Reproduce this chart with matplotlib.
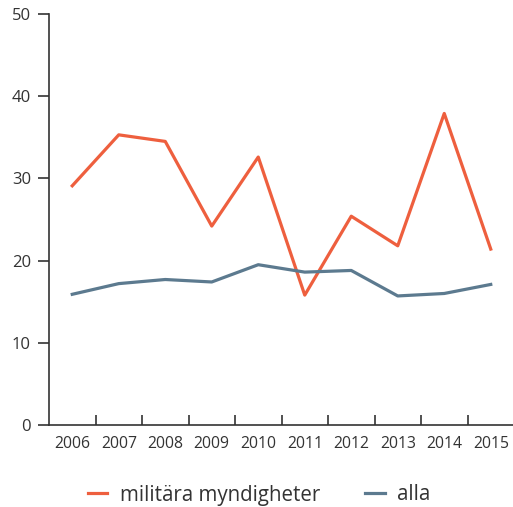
import matplotlib
import matplotlib.pyplot as plt
import numpy as np

matplotlib.use("Agg")

YEARS = ["2006", "2007", "2008", "2009", "2010", "2011", "2012", "2013", "2014", "2015"]
MILITARA = [29.1, 35.3, 34.5, 24.2, 32.6, 15.8, 25.4, 21.8, 37.9, 21.4]
ALLA = [15.9, 17.2, 17.7, 17.4, 19.5, 18.6, 18.8, 15.7, 16.0, 17.1]
SERIES_NAMES = ["militära myndigheter", "alla"]
Y_TICKS = [0, 10, 20, 30, 40, 50]

RED = "#EE5F3E"
BLUE = "#5C7A8F"
INK = "#333333"

plt.rcParams["font.family"] = ["Open Sans", "DejaVu Sans"]

fig = plt.figure(figsize=(5.13, 5.07), dpi=100)
ax = fig.add_axes((49 / 513, 1 - 425 / 507, 465 / 513, 411 / 507))

x = np.arange(len(YEARS))
ax.plot(x, MILITARA, color=RED, lw=2.3, label=SERIES_NAMES[0])
ax.plot(x, ALLA, color=BLUE, lw=2.3, label=SERIES_NAMES[1])

ax.set_xlim(-0.5, len(YEARS) - 0.5)
ax.set_ylim(0, 50)

for side in ("top", "right"):
    ax.spines[side].set_visible(False)
for side in ("left", "bottom"):
    ax.spines[side].set_color(INK)
    ax.spines[side].set_linewidth(1.2)

ax.set_yticks(Y_TICKS)
ax.tick_params(axis="y", direction="out", length=8, width=1.2, color=INK,
               labelsize=12, labelcolor=INK, pad=5)

ax.set_xticks(x)
ax.set_xticklabels(YEARS)
ax.set_xticks(np.arange(0.5, len(YEARS) - 0.5 + 0.01, 1.0), minor=True)
ax.tick_params(axis="x", which="major", length=0, labelsize=11.3, labelcolor=INK, pad=8)
ax.tick_params(axis="x", which="minor", direction="in", length=7.5, width=1.2, color=INK)

fig.legend(loc="center", bbox_to_anchor=(0.505, 1 - 495 / 507), ncol=2, frameon=False,
           fontsize=14.8, handlelength=0.95, handletextpad=0.6, columnspacing=2.2,
           labelcolor=INK)

fig.savefig("out.png", dpi=100)
plt.close(fig)
